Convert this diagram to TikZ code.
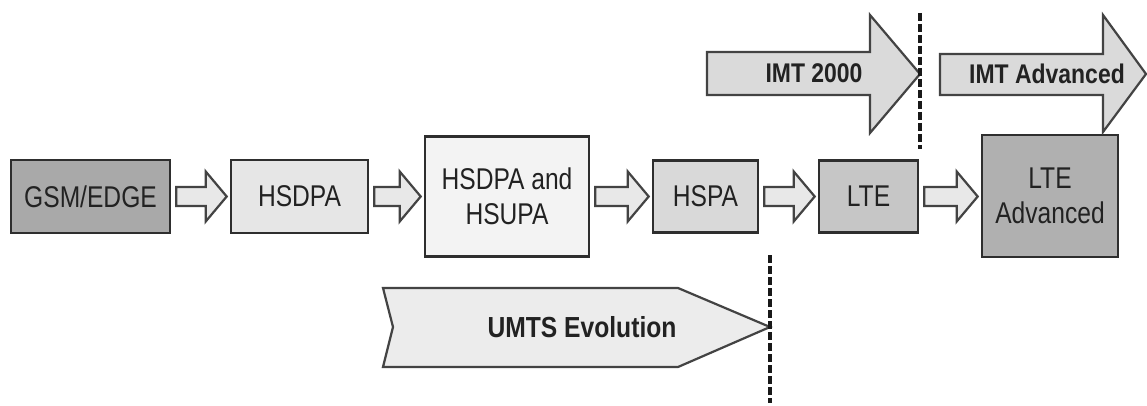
\documentclass[tikz,border=0pt]{standalone}
\usepackage{fontspec}
\usetikzlibrary{calc}
\newfontfamily\boxfont[FakeStretch=0.82]{Liberation Sans}
\newfontfamily\labfont[FakeStretch=0.85]{Liberation Sans}
\definecolor{linec}{HTML}{2E2E2E}
\definecolor{txtc}{HTML}{222222}
\definecolor{fgsm}{HTML}{A9A9A9}
\definecolor{fhsdpa}{HTML}{E6E6E6}
\definecolor{fhh}{HTML}{F3F3F3}
\definecolor{fhspa}{HTML}{D9D9D9}
\definecolor{flte}{HTML}{C6C6C6}
\definecolor{fltea}{HTML}{B0B0B0}
\definecolor{farr}{HTML}{E8E8E8}
\definecolor{fbig}{HTML}{DADADA}
\definecolor{fumts}{HTML}{ECECEC}
\newcommand\blockarr[2]{%
  \draw[smallarrow] let \p1=(#1.east), \p2=(#2.west) in
    (\x1+5pt,\y1+9.5pt) -- (\x2-24pt,\y1+9.5pt) -- (\x2-24pt,\y1+25pt) --
    (\x2-3pt,\y1) -- (\x2-24pt,\y1-25pt) -- (\x2-24pt,\y1-9.5pt) --
    (\x1+5pt,\y1-9.5pt) -- cycle;}
\begin{document}
\begin{tikzpicture}[x=1pt,y=-1pt,
  box/.style={draw=linec, line width=2.6pt, inner sep=0pt, align=center,
    text=txtc, font=\boxfont\fontsize{30}{35}\selectfont},
  smallarrow/.style={draw=linec!90, fill=farr, line width=2.2pt, line join=miter},
  bigarrow/.style={draw=linec!90, line width=2.2pt, line join=miter},
  lab/.style={inner sep=0pt, text=txtc, font=\labfont\bfseries\fontsize{27}{32}\selectfont},
  divider/.style={draw=black!90, line width=3.2pt, dash pattern=on 8pt off 3pt}]
\useasboundingbox (0,0) rectangle (1147,406);
\fill[white] (0,0) rectangle (1147,406);

% main boxes
\node[box, fill=fgsm, minimum width=159pt, minimum height=73pt] (gsm) at (90.5,196.5) {GSM/EDGE};
\node[box, fill=fhsdpa, minimum width=137pt, minimum height=73pt] (hsdpa) at (299.5,196.5) {HSDPA};
\node[box, fill=fhh, minimum width=164pt, minimum height=120pt] (hh) at (507,196.5) {HSDPA and\\HSUPA};
\node[box, fill=fhspa, minimum width=105pt, minimum height=72pt] (hspa) at (705.5,196.5) {HSPA};
\node[box, fill=flte, minimum width=99pt, minimum height=72pt] (lte) at (868.5,196.5) {LTE};
\node[box, fill=fltea, minimum width=136pt, minimum height=122pt] (ltea) at (1050,196) {LTE\\Advanced};

% block arrows between boxes
\blockarr{gsm}{hsdpa}
\blockarr{hsdpa}{hh}
\blockarr{hh}{hspa}
\blockarr{hspa}{lte}
\blockarr{lte}{ltea}

% big arrows
\draw[bigarrow, fill=fbig] (707,52) -- (870,52) -- (870,15) -- (920,74) -- (870,133) -- (870,95) -- (707,95) -- cycle;
\node[lab] (imt) at (814,73) {IMT 2000};
\draw[bigarrow, fill=fbig] (940,54) -- (1103,54) -- (1103,15) -- (1146,74) -- (1103,132) -- (1103,95) -- (940,95) -- cycle;
\node[lab] (imta) at (1047,74) {IMT Advanced};

% UMTS pennant
\draw[bigarrow, fill=fumts] (383,288) -- (678,288) -- (770,327) -- (678,367) -- (383,367) -- (393,327) -- cycle;
\node[lab, font=\labfont\bfseries\fontsize{29}{34}\selectfont] (umts) at (582,327) {UMTS Evolution};

% dashed dividers
\coordinate (d1a) at (920,13);
\coordinate (d1b) at (920,149);
\coordinate (d2a) at (770,255);
\coordinate (d2b) at (770,403);
\draw[divider] (d1a) -- (d1b);
\draw[divider] (d2a) -- (d2b);
\end{tikzpicture}
\end{document}
